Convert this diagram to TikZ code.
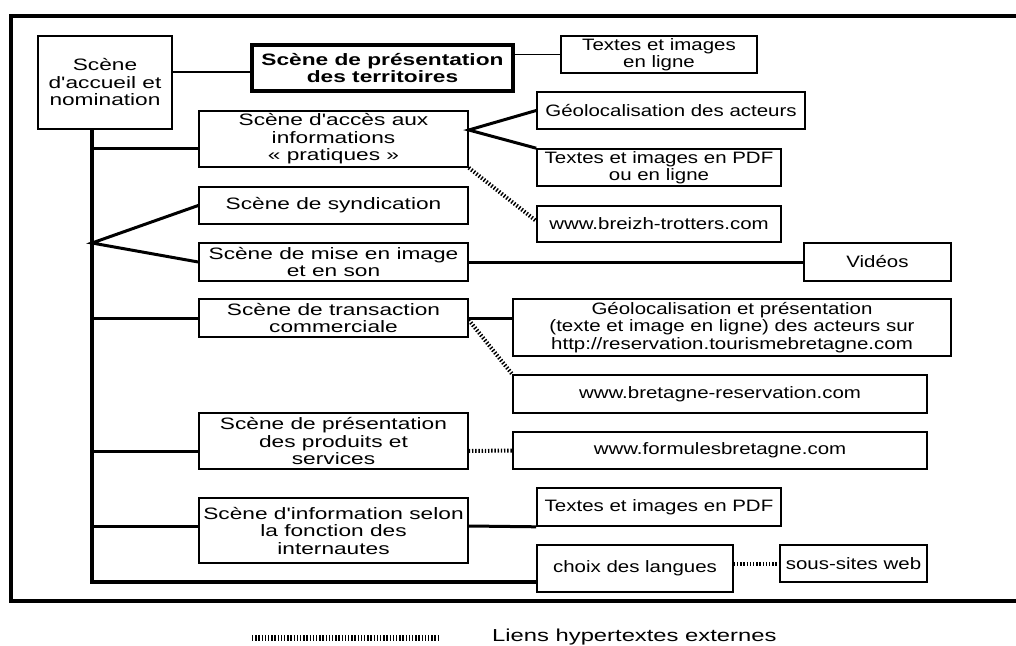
\documentclass[tikz,border=0pt]{standalone}
\usepackage{fontspec}
\setmainfont{Liberation Sans}
\newfontfamily\lfont{Liberation Sans}[FakeStretch=1.375]
\newfontfamily\rfont{Liberation Sans}[FakeStretch=1.24]
\begin{document}
\begin{tikzpicture}[x=1pt,y=-1pt,
  box/.style={draw, line width=1.6pt, inner sep=0pt, align=center},
  lbox/.style={box, font=\lfont\fontsize{16.5}{17.5}\selectfont},
  rbox/.style={box, font=\rfont\fontsize{16.5}{17.5}\selectfont},
  boldbox/.style={draw, line width=3.2pt, inner sep=0pt, align=center, font=\lfont\bfseries\fontsize{16.5}{17.5}\selectfont},
  trunk/.style={line width=4.5pt, line join=miter},
  br/.style={line width=3pt},
  thinl/.style={line width=1.6pt},
  hyp/.style={line width=4pt, dash pattern=on 1.4pt off 1.8pt},
  frame/.style={line width=4pt, line join=miter}]
\useasboundingbox (0,0) rectangle (1016,645);
\draw[frame] (1016,16) -- (11,16) -- (11,601) -- (1016,601);

\node[lbox, minimum width=134pt, minimum height=93pt] (A) at (105,82.5) {Scène\\d'accueil et\\nomination};
\node[boldbox, minimum width=261pt, minimum height=46pt] (B) at (382.5,68) {Scène de présentation\\des territoires};
\node[rbox, minimum width=196pt, minimum height=37pt] (C) at (659,54.5) {Textes et images\\en ligne};
\node[lbox, minimum width=269pt, minimum height=56pt] (D) at (333.5,139) {Scène d'accès aux\\informations\\« pratiques »};
\node[rbox, minimum width=268pt, minimum height=37pt] (E) at (671,110.5) {Géolocalisation des acteurs};
\node[rbox, minimum width=244pt, minimum height=37pt] (F) at (659,167.5) {Textes et images en PDF\\ou en ligne};
\node[rbox, minimum width=244pt, minimum height=36pt] (G) at (659,224) {www.breizh-trotters.com};
\node[lbox, minimum width=269pt, minimum height=37pt] (H) at (333.5,205.5) {Scène de syndication};
\node[lbox, minimum width=269pt, minimum height=38pt] (I) at (333.5,262) {Scène de mise en image\\et en son};
\node[rbox, minimum width=147pt, minimum height=38pt] (J) at (877.5,262) {Vidéos};
\node[lbox, minimum width=269pt, minimum height=38pt] (K) at (333.5,318) {Scène de transaction\\commerciale};
\node[rbox, minimum width=438pt, minimum height=57pt] (L) at (732,327.5) {Géolocalisation et présentation\\(texte et image en ligne) des acteurs sur\\http://reservation.tourismebretagne.com};
\node[rbox, minimum width=414pt, minimum height=38pt] (M) at (720,394) {www.bretagne-reservation.com};
\node[lbox, minimum width=269pt, minimum height=56pt] (N) at (333.5,441) {Scène de présentation\\des produits et\\services};
\node[rbox, minimum width=414pt, minimum height=37pt] (O) at (720,450.5) {www.formulesbretagne.com};
\node[lbox, minimum width=269pt, minimum height=65pt] (P) at (333.5,530.5) {Scène d'information selon\\la fonction des\\internautes};
\node[rbox, minimum width=244pt, minimum height=38pt] (Q) at (659,507) {Textes et images en PDF};
\node[rbox, minimum width=196pt, minimum height=47pt] (R) at (635,568.5) {choix des langues};
\node[rbox, minimum width=147pt, minimum height=37pt] (S) at (853.5,563.5) {sous-sites web};

\coordinate (top) at (A.south -| 92,0);
\coordinate (fan) at (92,243);
\coordinate (dr) at (D.east |- 0,130);

\draw[trunk] (top) -- (92,582) -- (R.west |- 0,582);
\draw[thinl] (A.east |- 0,72) -- (B.west |- 0,72);
\draw[thinl] (B.east |- C.west) -- (C.west);
\draw[br] (92,148) -- (D.west |- 0,148);
\draw[br] (H.west) -- (fan) -- (I.west);
\draw[br] (92,318) -- (K.west);
\draw[br] (92,451) -- (N.west |- 0,451);
\draw[br] (92,526) -- (P.west |- 0,526);
\draw[br] (E.west) -- (dr) -- (F.north west);
\draw[hyp] (D.south east) -- (G.west |- 0,221);
\draw[br] (I.east) -- (J.west);
\draw[br] (K.east) -- (K.east -| L.west);
\draw[hyp] (K.east |- 0,320) -- (M.north west);
\draw[hyp] (N.east |- 0,451) -- (O.west);
\draw[br] (P.east |- 0,526) -- (Q.south west);
\draw[hyp] (S.west -| R.east) -- (S.west);

\coordinate (l1) at (252,638);
\coordinate (l2) at (440,638);
\draw[hyp, line width=6pt] (l1) -- (l2);
\node[anchor=base west, inner sep=0pt, font=\lfont\fontsize{17.3}{19}\selectfont] (leg) at (492,641) {Liens hypertextes externes};
\end{tikzpicture}
\end{document}
